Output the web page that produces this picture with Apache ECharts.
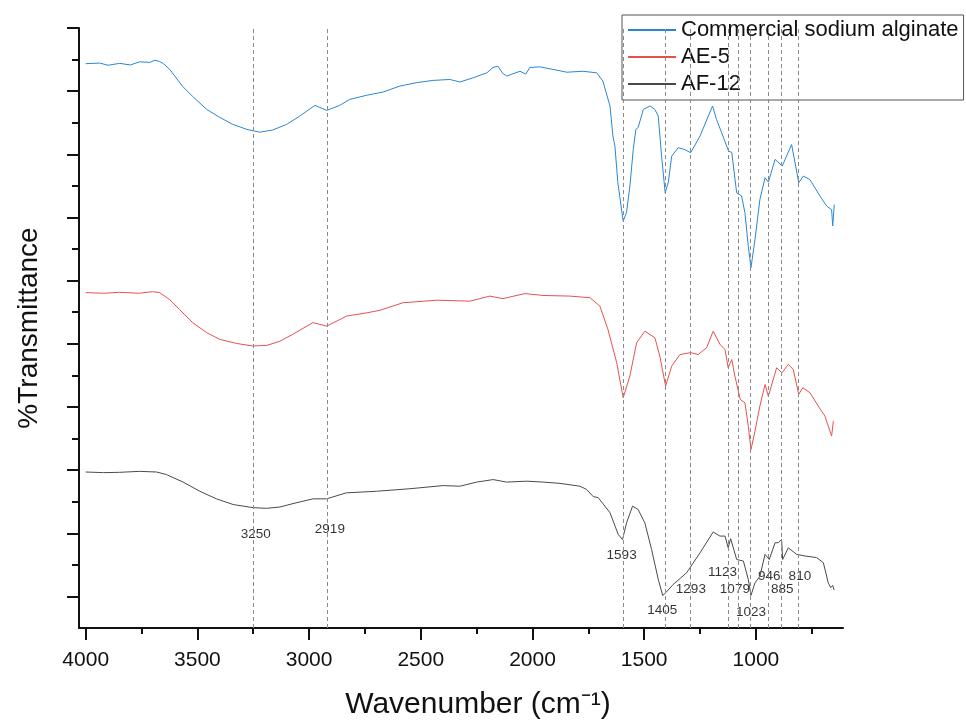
<!DOCTYPE html>
<html>
<head>
<meta charset="utf-8">
<title>FTIR spectra</title>
<script src="https://cdn.jsdelivr.net/npm/echarts@6/dist/echarts.min.js"></script>
<style>
  html, body { margin: 0; padding: 0; background: #fff; }
  #chart { width: 966px; height: 721px; }
</style>
</head>
<body>
<div id="chart"></div>
<script>
// wavenumber (cm-1), transmittance (arbitrary, stacked offsets)
var alginateData = [
  [4000, 168.7], [3937, 168.9], [3900, 168.2], [3848, 168.8], [3800, 168.3], [3758, 169.3],
  [3713, 169.1], [3690, 169.8], [3669, 169.4], [3650, 168.6], [3624, 166.9], [3566, 161.5],
  [3521, 158.3], [3458, 154.2], [3400, 151.7], [3342, 149.5], [3279, 147.9], [3221, 147.0],
  [3163, 147.7], [3100, 149.5], [3042, 152.1], [2974, 155.5], [2921, 153.9], [2863, 155.5],
  [2818, 157.4], [2742, 158.7], [2670, 159.7], [2594, 161.6], [2518, 162.7], [2446, 163.4],
  [2370, 163.7], [2325, 162.9], [2267, 164.2], [2204, 165.8], [2177, 167.5], [2155, 167.9],
  [2133, 165.6], [2115, 164.8], [2056, 166.3], [2030, 165.4], [2012, 167.5], [1967, 167.7],
  [1909, 166.9], [1846, 166.0], [1774, 166.3], [1712, 165.8], [1685, 163.2], [1653, 155.3],
  [1640, 145.8], [1631, 142.6], [1618, 131.1], [1594, 118.8], [1579, 121.6], [1564, 129.9],
  [1549, 141.5], [1537, 147.9], [1527, 148.5], [1504, 154.2], [1474, 155.3], [1452, 154.2],
  [1437, 152.1], [1422, 139.4], [1406, 127.8], [1392, 131.1], [1377, 139.4], [1348, 142.1],
  [1318, 141.5], [1292, 140.5], [1250, 145.8], [1194, 155.3], [1176, 151.0], [1153, 146.8],
  [1122, 141.0], [1108, 140.6], [1086, 127.8], [1064, 126.8], [1049, 121.5], [1034, 110.9],
  [1022, 104.1], [1004, 113.0], [982, 125.7], [959, 132.6], [944, 131.2], [914, 138.4],
  [882, 136.3], [840, 143.1], [808, 131.0], [788, 133.1], [758, 132.0], [713, 126.8],
  [683, 123.6], [661, 122.5], [656, 117.3], [649, 124.1]
];

var ae5Data = [
  [4000, 96.2], [3920, 96.0], [3848, 96.3], [3760, 96.0], [3700, 96.5], [3669, 96.2],
  [3624, 94.0], [3579, 90.8], [3521, 86.7], [3458, 83.5], [3400, 81.4], [3324, 80.1],
  [3252, 79.3], [3189, 79.5], [3131, 80.8], [3073, 83.0], [2983, 86.7], [2921, 85.6],
  [2831, 88.8], [2742, 89.8], [2683, 90.6], [2580, 93.0], [2428, 93.8], [2280, 93.5],
  [2191, 95.1], [2133, 94.3], [2034, 95.9], [1953, 95.3], [1833, 95.1], [1743, 94.6],
  [1698, 91.9], [1662, 84.5], [1623, 74.0], [1594, 62.9], [1564, 69.8], [1534, 80.3],
  [1497, 84.0], [1452, 81.9], [1430, 76.1], [1404, 66.6], [1377, 72.9], [1340, 76.6],
  [1292, 77.2], [1258, 76.6], [1220, 78.8], [1191, 84.0], [1161, 79.8], [1138, 78.2],
  [1124, 72.4], [1108, 75.0], [1094, 69.8], [1070, 62.4], [1049, 61.3], [1034, 53.9],
  [1022, 46.5], [1004, 52.3], [982, 60.3], [959, 67.1], [944, 63.4], [907, 72.4],
  [883, 70.8], [855, 73.5], [833, 71.9], [808, 64.0], [790, 66.1], [758, 64.5],
  [721, 60.3], [691, 57.1], [661, 50.8], [653, 55.5]
];

var af12Data = [
  [4000, 39.4], [3920, 39.2], [3848, 39.3], [3760, 39.6], [3683, 39.4], [3639, 38.6],
  [3564, 36.2], [3489, 33.3], [3415, 30.9], [3340, 29.1], [3251, 28.1], [3191, 27.9],
  [3131, 28.3], [3072, 29.4], [2982, 30.9], [2922, 30.9], [2833, 32.8], [2698, 33.3],
  [2549, 34.1], [2400, 35.1], [2325, 34.9], [2250, 36.2], [2176, 37.0], [2116, 36.2],
  [2026, 36.5], [1952, 36.2], [1877, 35.8], [1788, 34.9], [1758, 33.9], [1728, 31.6],
  [1706, 31.3], [1653, 26.5], [1616, 19.6], [1597, 18.0], [1579, 23.3], [1552, 28.6],
  [1527, 27.5], [1497, 23.3], [1467, 14.9], [1437, 5.4], [1417, 0.3], [1403, 1.2],
  [1370, 3.8], [1310, 7.5], [1250, 13.8], [1191, 20.4], [1161, 19.1], [1138, 19.1],
  [1124, 15.4], [1113, 18.3], [1101, 15.4], [1086, 11.7], [1056, 11.2], [1034, 5.4],
  [1022, 0.3], [1004, 4.3], [982, 6.4], [959, 13.3], [940, 11.7], [914, 17.0],
  [900, 17.0], [885, 18.0], [880, 11.7], [855, 15.4], [817, 13.3], [780, 12.8],
  [728, 12.3], [698, 10.7], [676, 4.3], [665, 2.8], [656, 3.5], [650, 2.0]
];

var peakLines = [3250, 2919, 1593, 1405, 1293, 1123, 1079, 1023, 946, 885, 810];

// [wavenumber, y, text]
var peakLabels = [
  [3239, 19.6, '3250'], [2907, 21.4, '2919'], [1601, 13.1, '1593'], [1419, -4.3, '1405'],
  [1291, 2.2, '1293'], [1149, 7.7, '1123'], [1094, 2.4, '1079'], [1022, -5.0, '1023'],
  [940, 6.4, '946'], [882, 2.4, '885'], [803, 6.4, '810']
];

var seriesNames = ['Commercial sodium alginate', 'AE-5', 'AF-12'];
var seriesColors = ['#2a86d2', '#e5524e', '#4a4a4a'];

var xMajorTicks = [4000, 3500, 3000, 2500, 2000, 1500, 1000];
var xMinorTicks = [3750, 3250, 2750, 2250, 1750, 1250, 750];
var yMajorTicks = [0, 20, 40, 60, 80, 100, 120, 140, 160, 180];
var yMinorTicks = [10, 30, 50, 70, 90, 110, 130, 150, 170];

var chart = echarts.init(document.getElementById('chart'));

var font = 'Liberation Sans, Arial, sans-serif';
var xMin = 610, xMax = 4030, yMin = -10, yMax = 180;

chart.setOption({
  animation: false,
  textStyle: { fontFamily: font },
  grid: { left: 79, right: 123, top: 28, bottom: 93, outerBoundsMode: 'none' },
  legend: {
    data: seriesNames,
    orient: 'vertical',
    left: 622,
    top: 15,
    padding: [4, 5, 5, 5],
    itemGap: 5,
    itemWidth: 48,
    itemHeight: 20,
    borderColor: '#555',
    borderWidth: 1,
    backgroundColor: '#fff',
    itemStyle: { opacity: 0 },
    textStyle: { fontSize: 22, color: '#111', fontFamily: font }
  },
  xAxis: [
    {
      type: 'value', min: xMin, max: xMax, inverse: true, position: 'bottom',
      name: 'Wavenumber (cm\u207B\u00B9)',
      nameLocation: 'middle', nameGap: 62,
      nameTextStyle: { fontSize: 30, color: '#111', padding: [0, 0, 0, 34] },
      axisLine: { onZero: false, lineStyle: { color: '#111', width: 2 } },
      axisTick: { length: 12, lineStyle: { width: 2, color: '#111' }, customValues: xMajorTicks },
      axisLabel: {
        fontSize: 21, color: '#111', margin: 22, customValues: xMajorTicks,
        formatter: function (v) { return String(v); }
      },
      splitLine: { show: false }
    },
    {
      type: 'value', min: xMin, max: xMax, inverse: true, position: 'bottom',
      axisLine: { show: false, onZero: false },
      axisTick: { length: 6, lineStyle: { width: 2, color: '#111' }, customValues: xMinorTicks },
      axisLabel: { show: false },
      splitLine: { show: false }
    }
  ],
  yAxis: [
    {
      type: 'value', min: yMin, max: yMax, position: 'left',
      name: '%Transmittance',
      nameLocation: 'middle', nameGap: 36,
      nameTextStyle: { fontSize: 28, color: '#111' },
      axisLine: { show: true, onZero: false, lineStyle: { color: '#111', width: 2 } },
      axisTick: { length: 12, lineStyle: { width: 2, color: '#111' }, customValues: yMajorTicks },
      axisLabel: { show: false },
      splitLine: { show: false }
    },
    {
      type: 'value', min: yMin, max: yMax, position: 'left',
      axisLine: { show: false, onZero: false },
      axisTick: { length: 7, lineStyle: { width: 2, color: '#111' }, customValues: yMinorTicks },
      axisLabel: { show: false },
      splitLine: { show: false }
    }
  ],
  series: [
    {
      name: seriesNames[0], type: 'line', data: alginateData, symbol: 'none',
      color: seriesColors[0], lineStyle: { width: 1, color: seriesColors[0] },
      markLine: {
        silent: true, symbol: 'none', label: { show: false },
        lineStyle: { type: [4, 3], color: '#8a8a8a', width: 1 },
        data: peakLines.map(function (w) { return { xAxis: w }; })
      }
    },
    {
      name: seriesNames[1], type: 'line', data: ae5Data, symbol: 'none',
      color: seriesColors[1], lineStyle: { width: 1, color: seriesColors[1] }
    },
    {
      name: seriesNames[2], type: 'line', data: af12Data, symbol: 'none',
      color: seriesColors[2], lineStyle: { width: 1, color: seriesColors[2] }
    },
    {
      name: 'peaks', type: 'scatter', data: peakLabels, symbolSize: 1,
      itemStyle: { color: 'transparent' }, silent: true,
      label: {
        show: true, position: 'inside', color: '#000', fontSize: 13.5,
        formatter: function (p) { return p.value[2]; }
      }
    }
  ]
});
</script>
</body>
</html>
